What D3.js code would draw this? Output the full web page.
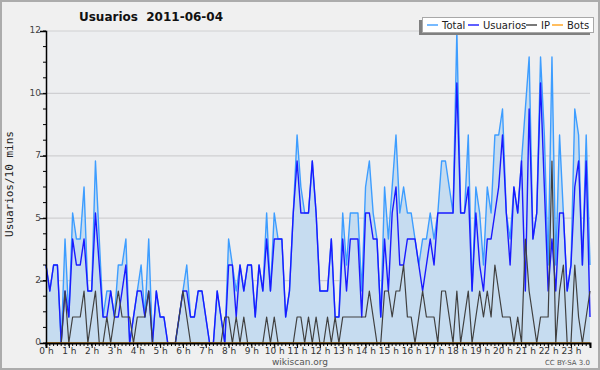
<!DOCTYPE html>
<html lang="es">
<head>
<meta charset="utf-8">
<title>Usuarios 2011-06-04</title>
<script src="https://cdn.jsdelivr.net/npm/d3@7"></script>
<style>
  body { margin: 0; background: #f0f0f0; }
  svg { display: block; }
  text { font-family: "DejaVu Sans", Verdana, sans-serif; }
</style>
</head>
<body>
<div id="chart"></div>
<script>
// series, one value every 10 minutes (144 per day)
var total = [
  3,2,3,3,0,4,1,5,4,4,6,2,
  2,7,4,1,2,2,1,3,3,4,0,1,
  2,3,1,4,0,2,1,1,0,0,0,1,
  2,3,1,1,2,2,1,0,0,2,1,0,
  4,3,2,3,2,3,3,1,3,2,5,2,
  5,4,4,1,2,5,8,6,5,5,7,5,
  2,2,2,4,1,1,5,3,5,5,5,2,
  6,7,5,4,1,6,4,6,8,5,6,5,
  5,4,3,4,4,5,4,5,7,7,6,5,
  12,5,5,8,2,6,5,3,6,5,8,8,
  9,5,4,6,5,7,9,11,4,5,11,8,
  3,11,3,8,5,2,3,9,8,3,8,3
];
var usuarios = [
  3,2,3,3,0,2,1,4,3,3,4,2,
  2,5,3,1,1,2,1,1,2,3,0,1,
  2,2,1,2,0,2,1,1,0,0,0,1,
  2,2,1,1,2,2,1,0,0,2,1,0,
  3,3,1,3,2,3,3,1,3,2,4,2,
  4,4,4,1,2,5,7,5,5,5,7,5,
  2,2,2,4,1,1,4,2,4,4,4,1,
  5,5,4,4,1,4,2,5,6,3,3,4,
  4,4,3,2,3,4,3,5,5,5,5,5,
  10,5,5,6,2,5,3,2,4,4,5,6,
  8,5,3,6,5,7,2,9,4,5,10,6,
  2,4,2,5,5,2,3,6,7,3,7,1
];
var ip = [
  0,0,0,0,0,2,0,1,1,1,2,0,
  1,2,0,0,1,0,1,2,1,1,1,0,
  1,1,1,2,0,0,0,0,0,0,0,1,
  2,1,0,0,0,0,0,0,0,0,0,1,
  1,0,1,0,1,0,0,0,0,0,1,0,
  1,0,0,0,0,0,1,1,0,1,0,1,
  0,0,1,0,1,0,1,1,1,1,1,1,
  1,2,1,0,0,2,2,1,2,2,3,1,
  1,0,1,2,1,1,1,0,2,2,1,0,
  2,0,1,2,0,1,2,1,2,1,3,2,
  1,1,1,0,1,0,4,2,1,0,1,1,
  1,7,0,2,3,0,0,3,1,0,1,2
];
var bots = d3.range(144).map(function(){ return 0; });

var hourLabels = d3.range(24).map(function(h){ return h + " h"; });
var yTickValues = [0, 2.4, 4.8, 7.2, 9.6, 12];
var yTickLabels = ["0", "2", "5", "7", "10", "12"];
var seriesNames = ["Total", "Usuarios", "IP", "Bots"];
var seriesColors = ["#3d9dff", "#1a1aff", "#404040", "#ffa31a"];

var W = 600, H = 370;
var plot = {left: 46, right: 590, top: 31, bottom: 343};

var svg = d3.select("#chart").append("svg")
  .attr("width", W)
  .attr("height", H);

svg.append("rect")
  .attr("x", 1).attr("y", 1)
  .attr("width", W - 2).attr("height", H - 2)
  .attr("fill", "#f0f0f0")
  .attr("stroke", "#acacac")
  .attr("stroke-width", 2);

var x = d3.scaleLinear().domain([0, 143]).range([plot.left, plot.right]);
var y = d3.scaleLinear().domain([0, 12]).range([plot.bottom, plot.top]);

// plot background
svg.append("rect")
  .attr("x", plot.left).attr("y", plot.top)
  .attr("width", plot.right - plot.left)
  .attr("height", plot.bottom - plot.top)
  .attr("fill", "#edeef0");

// horizontal grid
svg.append("g").selectAll("line")
  .data(yTickValues.slice(1))
  .enter().append("line")
  .attr("x1", plot.left).attr("x2", plot.right)
  .attr("y1", function(d){ return y(d); })
  .attr("y2", function(d){ return y(d); })
  .attr("stroke", "#cfcfd2")
  .attr("stroke-width", 1.2);

// area under Total
var area = d3.area()
  .x(function(d, i){ return x(i); })
  .y0(y(0))
  .y1(function(d){ return y(d); });
svg.append("path")
  .datum(total)
  .attr("d", area)
  .attr("fill", "#c6dcf0");

var line = d3.line()
  .x(function(d, i){ return x(i); })
  .y(function(d){ return y(d); });

[total, usuarios, ip, bots].forEach(function(s, k){
  svg.append("path")
    .datum(s)
    .attr("d", line)
    .attr("fill", "none")
    .attr("stroke", seriesColors[k])
    .attr("stroke-width", k == 2 ? 1.2 : 1.4)
    .attr("stroke-linejoin", "round");
});

// y axis
var yAxis = d3.axisLeft(y)
  .tickValues(yTickValues)
  .tickSize(6)
  .tickFormat(function(d, i){ return yTickLabels[i]; });
var gy = svg.append("g")
  .attr("transform", "translate(" + plot.left + ",0)")
  .call(yAxis);
gy.select(".domain").attr("stroke", "#000").attr("stroke-width", 1.5);
gy.selectAll(".tick line").attr("stroke", "#000");
gy.selectAll(".tick text")
  .attr("x", -5).attr("dy", "0.2em")
  .attr("fill", "#444")
  .style("font-size", "9px");

// minor y ticks
svg.append("g").selectAll("line")
  .data(d3.range(0, 12.01, 0.6))
  .enter().append("line")
  .attr("x1", plot.left - 3).attr("x2", plot.left)
  .attr("y1", function(d){ return y(d); })
  .attr("y2", function(d){ return y(d); })
  .attr("stroke", "#000");

// x axis: a tick per point, labels every hour
var xAxis = d3.axisBottom(x)
  .tickValues(d3.range(0, 144, 6))
  .tickSize(5)
  .tickFormat(function(d){ return hourLabels[d / 6]; });
var gx = svg.append("g")
  .attr("transform", "translate(0," + plot.bottom + ")")
  .call(xAxis);
gx.select(".domain").attr("stroke", "#000").attr("stroke-width", 2);
gx.selectAll(".tick line").attr("stroke", "#000");
gx.selectAll(".tick text")
  .attr("y", 5).attr("dy", "0.71em")
  .attr("fill", "#333")
  .style("font-size", "9px");

svg.append("g").selectAll("line")
  .data(d3.range(0, 144))
  .enter().append("line")
  .attr("x1", function(d){ return x(d); })
  .attr("x2", function(d){ return x(d); })
  .attr("y1", plot.bottom).attr("y2", plot.bottom + 3)
  .attr("stroke", "#000");

// title
svg.append("text")
  .attr("x", 151).attr("y", 21)
  .attr("text-anchor", "middle")
  .style("font-size", "12px")
  .style("font-weight", "bold")
  .style("white-space", "pre")
  .attr("fill", "#111")
  .text("Usuarios  2011-06-04");

// y label
svg.append("text")
  .attr("transform", "translate(13,184) rotate(-90)")
  .attr("text-anchor", "middle")
  .style("font-family", "'DejaVu Sans Mono', monospace")
  .style("font-size", "11px")
  .attr("fill", "#222")
  .text("Usuarios/10 mins");

// footer
svg.append("text")
  .attr("x", 300).attr("y", 365)
  .attr("text-anchor", "middle")
  .style("font-size", "9px")
  .attr("fill", "#555")
  .text("wikiscan.org");
svg.append("text")
  .attr("x", 590).attr("y", 365)
  .attr("text-anchor", "end")
  .style("font-size", "7px")
  .attr("fill", "#555")
  .text("CC BY-SA 3.0");

// legend
var lg = svg.append("g");
lg.append("rect")
  .attr("x", 419).attr("y", 20)
  .attr("width", 171).attr("height", 15)
  .attr("fill", "#808080");
lg.append("rect")
  .attr("x", 422.5).attr("y", 17.5)
  .attr("width", 171).attr("height", 15)
  .attr("fill", "#fff")
  .attr("stroke", "#a8a8a8");
var legendX = [427, 468, 526, 552];
seriesNames.forEach(function(n, k){
  lg.append("line")
    .attr("x1", legendX[k]).attr("x2", legendX[k] + 11)
    .attr("y1", 25).attr("y2", 25)
    .attr("stroke", seriesColors[k])
    .attr("stroke-width", 1.4);
  lg.append("text")
    .attr("x", legendX[k] + 15).attr("y", 29)
    .style("font-size", "10px")
    .attr("fill", "#222")
    .text(n);
});
</script>
</body>
</html>
